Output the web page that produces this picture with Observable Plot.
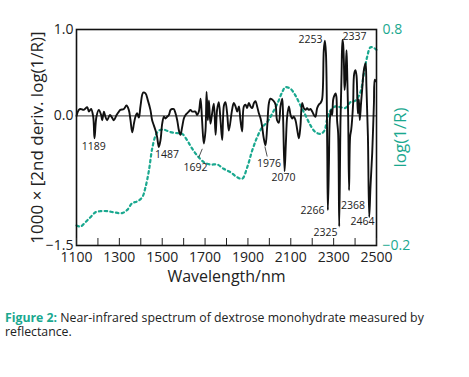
<!DOCTYPE html>
<html>
<head>
<meta charset="utf-8">
<script src="https://cdn.jsdelivr.net/npm/d3@7"></script>
<script src="https://cdn.jsdelivr.net/npm/@observablehq/plot@0.6"></script>
<style>
  html, body { margin: 0; padding: 0; background: #fff; }
  #chart { width: 469px; }
  #caption { font-family: "Open Sans", sans-serif; font-size: 12.3px; line-height: 14px; color: #222; margin: 16px 0 0 5px; width: 430px; }
  #caption b { color: #1aa88f; }
</style>
</head>
<body>
<div id="chart"></div>
<div id="caption"><b>Figure 2:</b> Near-infrared spectrum of dextrose monohydrate measured by reflectance.</div>
<script>
// 2nd derivative spectrum (left axis)
const derivWl = [1100,1111,1119,1134,1150,1158,1168,1178,1184,1193,1204,1215,1220,1228,1235,1243,1256,1266,1274,1287,1298,1305,1321,1333,1344,1352,1360,1368,1375,1383,1391,1399,1411,1422,1433,1445,1453,1461,1469,1476,1484,1492,1500,1508,1515,1523,1531,1539,1546,1554,1562,1570,1578,1585,1593,1601,1609,1616,1624,1632,1640,1648,1655,1663,1671,1679,1686,1694,1702,1707,1713,1718,1725,1733,1741,1749,1756,1764,1772,1780,1788,1795,1803,1811,1826,1834,1842,1850,1858,1865,1873,1881,1889,1896,1904,1912,1920,1928,1935,1943,1951,1959,1966,1974,1982,1990,1998,2005,2013,2021,2029,2036,2044,2052,2060,2064,2071,2077,2083,2091,2099,2106,2114,2122,2130,2138,2145,2153,2161,2169,2176,2184,2192,2200,2208,2215,2223,2231,2239,2246,2254,2259,2264,2270,2273,2278,2282,2288,2293,2298,2304,2309,2313,2316,2321,2326,2332,2337,2341,2344,2348,2351,2355,2360,2363,2368,2372,2377,2382,2386,2391,2396,2402,2407,2413,2418,2422,2428,2433,2441,2449,2453,2460,2466,2472,2480,2488,2492,2497];
const derivVal = [0.00,0.07,0.08,0.07,0.10,0.05,0.08,-0.01,-0.26,-0.01,0.07,0.01,-0.05,0.05,-0.01,-0.05,0.01,-0.02,-0.05,0.01,0.05,0.07,0.08,0.12,0.07,-0.05,-0.19,-0.09,-0.01,0.03,-0.02,0.12,0.27,0.26,0.18,0.07,-0.05,-0.11,-0.17,-0.24,-0.36,-0.28,-0.09,-0.01,-0.03,-0.01,0.01,0.07,0.08,0.08,0.03,-0.05,-0.17,-0.22,-0.13,-0.03,0.01,0.03,0.05,0.07,0.05,0.05,0.05,0.01,0.05,0.20,-0.05,-0.32,-0.17,0.28,-0.05,0.18,-0.09,0.03,0.14,-0.22,0.07,0.16,-0.05,-0.28,0.12,0.16,0.03,-0.17,0.07,0.15,0.11,0.05,0.11,-0.05,-0.18,0.11,0.13,0.09,0.15,0.11,0.09,0.15,0.17,0.11,0.03,-0.03,-0.12,-0.26,-0.34,-0.12,0.15,0.20,0.19,0.17,0.13,-0.05,-0.08,0.11,0.20,-0.01,-0.64,-0.32,-0.01,0.11,0.01,-0.03,-0.01,-0.05,-0.16,-0.26,-0.12,0.15,0.09,0.07,0.09,0.07,0.08,0.05,0.01,-0.01,0.09,0.13,0.15,0.19,0.76,0.87,0.73,-0.35,-1.09,-0.55,-0.05,0.07,0.01,0.19,0.24,0.26,0.22,-0.05,-0.20,-1.28,-0.05,0.49,0.88,0.84,0.61,0.30,0.42,0.76,0.53,-0.05,-0.86,-0.24,-0.16,-0.05,0.15,0.49,0.53,0.46,0.03,0.19,-0.05,0.15,0.30,0.53,0.61,0.34,-0.24,-1.17,-0.82,-0.43,0.15,0.42,0.40];

// log(1/R) spectrum (right axis)
const absWl = [1100,1119,1142,1165,1189,1212,1243,1274,1313,1337,1360,1383,1407,1422,1438,1453,1469,1484,1508,1539,1570,1593,1617,1640,1663,1694,1725,1757,1787,1819,1850,1873,1897,1920,1943,1967,1990,2013,2037,2060,2075,2099,2122,2145,2169,2192,2215,2239,2257,2270,2285,2309,2332,2355,2379,2402,2425,2441,2456,2472,2487,2500];
const absVal = [-0.107,-0.112,-0.092,-0.069,-0.046,-0.041,-0.041,-0.046,-0.050,-0.035,-0.004,0.004,0.024,0.070,0.147,0.248,0.309,0.332,0.336,0.325,0.320,0.317,0.286,0.248,0.217,0.186,0.175,0.175,0.155,0.139,0.116,0.109,0.163,0.240,0.301,0.348,0.371,0.410,0.456,0.510,0.533,0.525,0.494,0.448,0.402,0.356,0.325,0.317,0.332,0.387,0.425,0.444,0.440,0.437,0.464,0.471,0.510,0.595,0.672,0.718,0.715,0.706];

// peak labels (wavelength, left-axis value)
const peakText = ["1189","1487","1692","1976","2070","2253","2337","2266","2325","2368","2464"];
const peakX = [1181,1522,1655,1998,2066,2192,2397,2201,2262,2390,2435];
const peakY = [-0.354,-0.447,-0.597,-0.551,-0.713,0.884,0.919,-1.095,-1.35,-1.037,-1.222];
// leader lines
const leaderX1 = [1671,1979], leaderY1 = [-0.478,-0.354];
const leaderX2 = [1687,1990], leaderY2 = [-0.381,-0.470];

const xTicks = d3.range(1100, 2501, 100);
const xLabels = [1100,1300,1500,1700,1900,2100,2300,2500];
const leftTicks = [1.0, 0.0, -1.5];
const rightTicks = [0.8, -0.2];

const leftDomain = [-1.5, 1.0];
const rightDomain = [-0.2, 0.8];
const toLeft = r => leftDomain[0] + (r - rightDomain[0]) * (leftDomain[1]-leftDomain[0]) / (rightDomain[1]-rightDomain[0]);
const toRight = v => rightDomain[0] + (v - leftDomain[0]) * (rightDomain[1]-rightDomain[0]) / (leftDomain[1]-leftDomain[0]);

const teal = "#1aa88f";
const fmt = d3.format(".1f");

const deriv = derivWl.map((w,i) => ({w, v: derivVal[i]}));
const absorb = absWl.map((w,i) => ({w, v: toLeft(absVal[i])}));
const peaks = peakText.map((t,i) => ({t, x: peakX[i], y: peakY[i]}));
const leaders = leaderX1.map((x,i) => ({x1: x, y1: leaderY1[i], x2: leaderX2[i], y2: leaderY2[i]}));

const chart = Plot.plot({
  width: 469, height: 295,
  marginLeft: 76, marginRight: 93, marginTop: 29, marginBottom: 50,
  x: {domain: [1100, 2500]},
  y: {domain: leftDomain},
  style: {fontFamily: "Open Sans, sans-serif", fontSize: "14px", color: "#222", background: "white"},
  marks: [
    Plot.ruleY([0], {stroke: "#333", strokeWidth: 1}),
    Plot.line(absorb, {x: "w", y: "v", stroke: teal, strokeWidth: 2.2, strokeDasharray: "2.5,3.2", curve: "catmull-rom"}),
    Plot.line(deriv, {x: "w", y: "v", stroke: "#111", strokeWidth: 1.9, curve: "catmull-rom"}),
    Plot.link(leaders, {x1: "x1", y1: "y1", x2: "x2", y2: "y2", stroke: "#222", strokeWidth: 0.8}),
    Plot.text(peaks, {x: "x", y: "y", text: "t", fontSize: 10.5, fill: "#222"}),
    Plot.frame({stroke: "#111", strokeWidth: 1.6}),
    Plot.axisX({ticks: xTicks, tickSize: -7, tickPadding: 14, tickFormat: d => xLabels.includes(d) ? String(d) : "", label: null, fontSize: 14}),
    Plot.axisY({ticks: leftTicks, tickSize: 0, tickPadding: 3, tickFormat: fmt, label: null, fontSize: 14}),
    Plot.axisY({anchor: "right", ticks: rightTicks.map(toLeft), tickSize: 0, tickPadding: 6, tickFormat: d => fmt(toRight(d)), label: null, fontSize: 14, fill: teal, color: teal}),
    Plot.text(["1000 × [2nd deriv. log(1/R)]"], {frameAnchor: "left", dx: -39, rotate: -90, textAnchor: "middle", fontSize: 17, fill: "#222"}),
    Plot.text(["log(1/R)"], {frameAnchor: "right", dx: 24, rotate: -90, textAnchor: "middle", fontSize: 17, fill: teal}),
    Plot.text(["Wavelength/nm"], {frameAnchor: "bottom", dy: 36, fontSize: 16, fill: "#222"})
  ]
});
document.getElementById("chart").appendChild(chart);
</script>
</body>
</html>
